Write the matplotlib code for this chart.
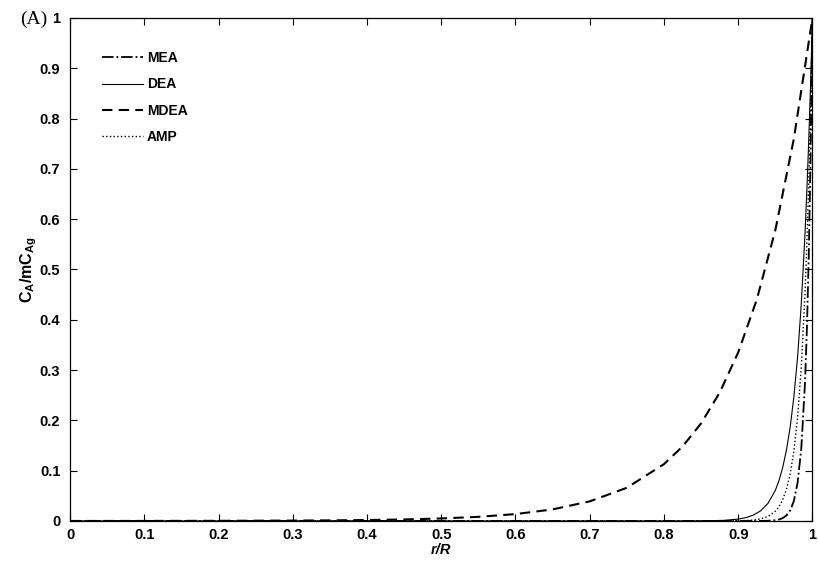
import numpy as np
import matplotlib
matplotlib.use('Agg')
import matplotlib.pyplot as plt

plt.rcParams['font.family'] = ['Liberation Sans', 'DejaVu Sans']
plt.rcParams['mathtext.fontset'] = 'custom'
plt.rcParams['mathtext.rm'] = 'Liberation Sans:bold'
plt.rcParams['mathtext.it'] = 'Liberation Sans:bold'
plt.rcParams['mathtext.bf'] = 'Liberation Sans:bold'

# steep profiles (MEA, DEA, AMP) share one r grid
r_steep = [0, 0.3, 0.6, 0.8, 0.85, 0.88, 0.9, 0.91, 0.92, 0.93, 0.94, 0.95, 0.955,
           0.96, 0.965, 0.97, 0.975, 0.98, 0.985, 0.99, 0.9925, 0.995, 0.9975, 1.0]
c_dea = [0, 0, 0, 0, 0.0002, 0.0012, 0.0037, 0.0065, 0.0114, 0.0199, 0.0348, 0.0609, 0.0805,
         0.1066, 0.141, 0.1865, 0.2467, 0.326, 0.432, 0.571, 0.657, 0.756, 0.869, 1.0]
c_amp = [0, 0, 0, 0, 0, 0.0001, 0.0004, 0.0008, 0.0018, 0.004, 0.0088, 0.0193, 0.0286,
         0.0425, 0.063, 0.0935, 0.1388, 0.206, 0.306, 0.454, 0.553, 0.674, 0.821, 1.0]
c_mea = [0, 0, 0, 0, 0, 0, 0, 0, 0, 0.0001, 0.0004, 0.0016, 0.003,
         0.0057, 0.011, 0.0209, 0.0398, 0.0758, 0.1445, 0.275, 0.38, 0.5245, 0.724, 1.0]

r_mdea = [0, 0.1, 0.2, 0.3, 0.35, 0.4, 0.45, 0.5, 0.55, 0.6, 0.65, 0.7, 0.75, 0.8,
          0.825, 0.85, 0.875, 0.9, 0.925, 0.95, 0.975, 1.0]
c_mdea = [0, 0.0001, 0.0003, 0.0008, 0.0012, 0.0019, 0.003, 0.005, 0.0082, 0.0137, 0.023,
          0.039, 0.066, 0.113, 0.148, 0.194, 0.255, 0.335, 0.44, 0.578, 0.76, 1.0]

fig = plt.figure(figsize=(8.18, 5.72), dpi=100)
ax = fig.add_axes([0.0856, 0.0892, 0.9076, 0.8794])

ax.plot(r_steep, c_mea, color='k', ls='-.', lw=1.3, label='MEA')
ax.plot(r_steep, c_dea, color='k', ls='-', lw=0.8, label='DEA')
ax.plot(r_mdea, c_mdea, color='k', ls=(0, (5, 3)), lw=1.5, label='MDEA')
ax.plot(r_steep, c_amp, color='k', ls=':', lw=1.0, label='AMP')

ax.set_xlim(0, 1)
ax.set_ylim(0, 1)
ticks = np.round(np.arange(0, 1.01, 0.1), 1)
labels = ['0'] + ['%.1f' % t for t in ticks[1:-1]] + ['1']
ax.set_xticks(ticks)
ax.set_xticklabels(labels)
ax.set_yticks(ticks)
ax.set_yticklabels(labels)
ax.tick_params(direction='in', top=True, right=True, length=5, width=0.8)
ax.tick_params(axis='x', pad=5)
ax.tick_params(axis='y', pad=7)
for lab in ax.get_xticklabels() + ax.get_yticklabels():
    lab.set_fontweight('bold')
    lab.set_fontsize(10.5)
for s in ax.spines.values():
    s.set_linewidth(0.9)

ax.set_xlabel('r/R', fontsize=10.5, fontweight='bold', style='italic', labelpad=1)
ax.set_ylabel(r'$C_A/mC_{Ag}$', fontsize=11.5, labelpad=0.5)

leg = ax.legend(loc='upper left', frameon=False, prop={'weight': 'bold', 'size': 10},
                handlelength=2.9, handletextpad=0.3, labelspacing=0.88,
                borderaxespad=0, bbox_to_anchor=(0.036, 0.945))

fig.text(0.024, 0.966, '(A)', family='Liberation Serif', fontsize=14, va='center')

fig.savefig('out.png', dpi=100)
